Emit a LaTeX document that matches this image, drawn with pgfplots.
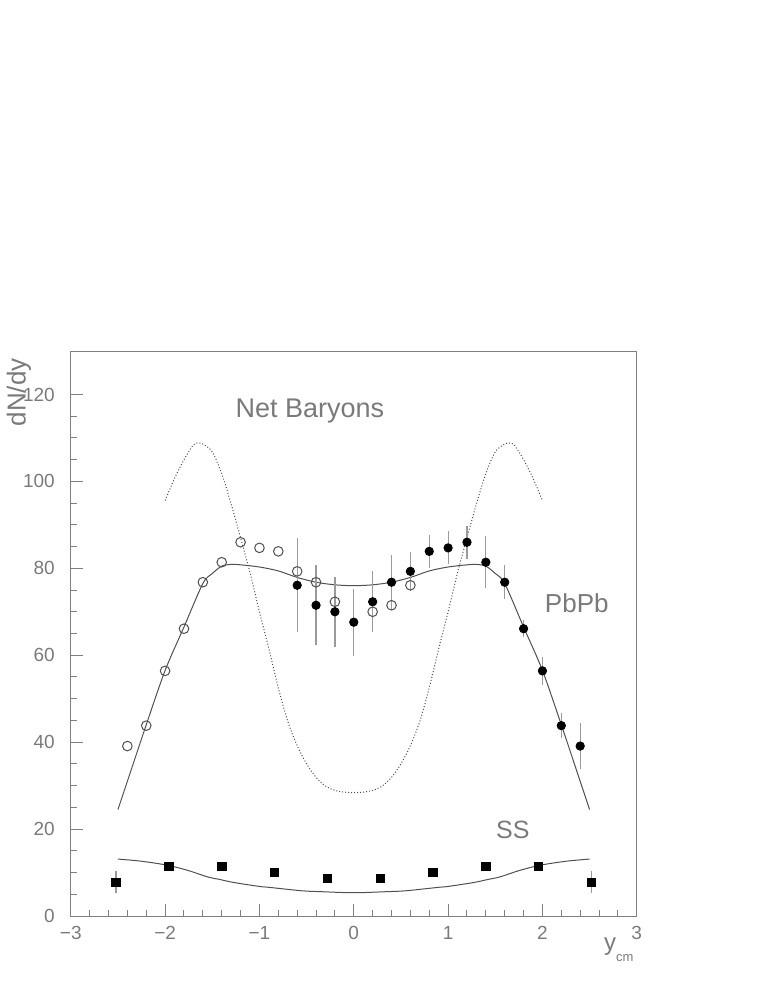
\documentclass[border=0pt]{standalone}
\usepackage{fontspec}
\setmainfont{Liberation Sans}
\usepackage{pgfplots}
\pgfplotsset{compat=1.18}
\usepackage{pgfplotstable}

\definecolor{axgray}{HTML}{808080}
\definecolor{txtgray}{HTML}{7A7A7A}
\definecolor{curvegray}{HTML}{505050}
\definecolor{errgray}{HTML}{9A9A9A}

% PbPb, measured (filled)
\pgfplotstableread{
x y err
-0.6 76.1 10.8
-0.4 71.5 9.2
-0.2 70.0 8.0
0.0 67.6 7.7
0.2 72.3 7.0
0.4 76.8 6.3
0.6 79.3 4.5
0.8 83.9 3.8
1.0 84.7 3.8
1.2 86.0 3.8
1.4 81.4 6.0
1.6 76.8 3.9
1.8 66.1 2.0
2.0 56.4 3.3
2.2 43.8 2.9
2.4 39.1 5.3
}\pbfull

% PbPb, reflected (open)
\pgfplotstableread{
x y
-2.4 39.1
-2.2 43.8
-2.0 56.4
-1.8 66.1
-1.6 76.8
-1.4 81.4
-1.2 86.0
-1.0 84.7
-0.8 83.9
-0.6 79.3
-0.4 76.8
-0.2 72.3
0.2 70.0
0.4 71.5
0.6 76.1
}\pbopen

% SS
\pgfplotstableread{
x y err
-2.52 7.8 2.6
-1.96 11.4 0
-1.40 11.4 0
-0.84 10.1 0
-0.28 8.6 0
0.28 8.6 0
0.84 10.1 0
1.40 11.4 0
1.96 11.4 0
2.52 7.8 2.6
}\ss

% model curve PbPb
\pgfplotstableread{
x y
-2.5 24.5
-2.4 31.0
-2.2 44.0
-2.0 56.5
-1.8 66.5
-1.6 76.5
-1.5 78.8
-1.4 80.5
-1.3 80.9
-1.2 80.8
-1.0 80.3
-0.8 79.4
-0.6 77.9
-0.4 76.8
-0.2 76.2
0.0 76.0
0.2 76.2
0.4 76.8
0.6 77.9
0.8 79.4
1.0 80.3
1.2 80.8
1.3 80.9
1.4 80.5
1.5 78.8
1.6 76.5
1.8 66.5
2.0 56.5
2.2 44.0
2.4 31.0
2.5 24.5
}\pbcurve

% net baryons (dotted)
\pgfplotstableread{
x y
-2.0 95.6
-1.9 100.7
-1.8 105.0
-1.7 108.4
-1.65 108.8
-1.6 108.6
-1.5 106.8
-1.4 101.8
-1.3 94.8
-1.2 87.0
-1.1 79.0
-1.0 70.0
-0.9 61.5
-0.8 52.5
-0.7 44.8
-0.6 39.2
-0.5 35.0
-0.4 31.9
-0.3 29.9
-0.2 28.9
-0.1 28.5
0.0 28.4
0.1 28.5
0.2 28.9
0.3 29.9
0.4 31.9
0.5 35.0
0.6 39.2
0.7 44.8
0.8 52.5
0.9 61.5
1.0 70.0
1.1 79.0
1.2 87.0
1.3 94.8
1.4 101.8
1.5 106.8
1.6 108.6
1.65 108.8
1.7 108.4
1.8 105.0
1.9 100.7
2.0 95.6
}\netbar

% model curve SS
\pgfplotstableread{
x y
-2.5 13.1
-2.25 12.6
-1.98 11.7
-1.76 10.5
-1.55 9.0
-1.42 8.4
-1.27 7.7
-1.0 6.8
-0.9 6.6
-0.55 5.8
-0.35 5.6
0.0 5.35
0.35 5.6
0.55 5.8
0.9 6.6
1.0 6.8
1.27 7.7
1.42 8.4
1.55 9.0
1.76 10.5
1.98 11.7
2.25 12.6
2.5 13.1
}\sscurve

\begin{document}
\begin{tikzpicture}
\begin{axis}[
    scale only axis,
    width=283pt, height=282.5pt,
    xmin=-3, xmax=3, ymin=0, ymax=130,
    axis line style={axgray, line width=0.5pt},
    every tick/.style={axgray, line width=0.5pt},
    tick pos=left,
    tick align=inside,
    major tick length=6pt,
    minor tick length=3pt,
    xtick={-3,-2,-1,0,1,2,3},
    xticklabels={−3,−2,−1,0,1,2,3},
    minor x tick num=4,
    ytick={0,20,40,60,80,100,120},
    minor y tick num=3,
    /pgf/number format/assume math mode=true,
    tick label style={font=\fontsize{9.5}{10}\selectfont, text=txtgray},
    xticklabel style={yshift=-1.5pt},
    yticklabel style={xshift=-4.5pt},
    clip=false,
]
\addplot[curvegray, line width=0.5pt, dash pattern=on 0.5pt off 1pt, smooth] table[x=x,y=y] {\netbar};
\addplot[curvegray, line width=0.5pt, smooth] table[x=x,y=y] {\pbcurve};
\addplot[curvegray, line width=0.5pt, smooth] table[x=x,y=y] {\sscurve};
\addplot[only marks, mark=*, mark size=2.1pt, black,
    error bars/.cd, y dir=both, y explicit,
    error mark=none, error bar style={errgray, line width=0.6pt}]
    table[x=x,y=y,y error=err] {\pbfull};
\addplot[only marks, mark=o, mark size=2.4pt, mark options={curvegray, line width=0.5pt}]
    table[x=x,y=y] {\pbopen};
\addplot[only marks, mark=square*, mark size=2.1pt, black,
    error bars/.cd, y dir=both, y explicit,
    error mark=none, error bar style={errgray, line width=0.6pt}]
    table[x=x,y=y,y error=err] {\ss};

\node[anchor=base, font=\fontsize{13.5}{14}\selectfont, text=txtgray] at (axis cs:-0.466,114.7) {Net Baryons};
\node[anchor=base, font=\fontsize{13}{14}\selectfont, text=txtgray] at (axis cs:2.364,69.9) {PbPb};
\node[anchor=base, font=\fontsize{12.5}{14}\selectfont, text=txtgray] at (axis cs:1.686,17.9) {SS};
\node[rotate=90, anchor=center, font=\fontsize{13}{14}\selectfont, text=txtgray]
    at ([xshift=-26pt]axis cs:-3,120.5) {dN/dy};
\node[anchor=base west, inner sep=0pt, text=txtgray]
    at ([yshift=-17pt]axis cs:2.65,0) {\fontsize{12}{12}\selectfont y\raisebox{-5.5pt}{\fontsize{6.5}{6.5}\selectfont cm}};
\end{axis}
\path (current axis.south west) ++(-35pt,-35.5pt) rectangle ++(381.5pt,493.5pt);
\end{tikzpicture}
\end{document}
